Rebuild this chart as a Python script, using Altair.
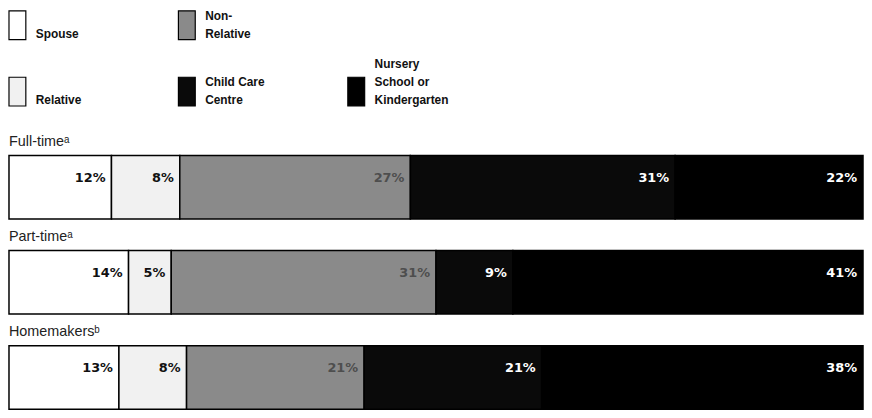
import altair as alt
import pandas as pd

# ---- data ----
groups = ["Full-time", "Part-time", "Homemakers"]
group_labels = ["Full-timeᵃ", "Part-timeᵃ", "Homemakersᵇ"]
categories = ["Spouse", "Relative", "Non-Relative", "Child Care Centre",
              "Nursery School or Kindergarten"]
legend_labels = ["Spouse", "Relative", "Non-\nRelative", "Child Care\nCentre",
                 "Nursery\nSchool or\nKindergarten"]
full_time = [12, 8, 27, 31, 22]
part_time = [14, 5, 31, 9, 41]
homemakers = [13, 8, 21, 21, 38]

# ---- styles ----
fills = ["#ffffff", "#f1f1f1", "#8a8a8a", "#0a0a0a", "#000000"]
label_colors = ["#111111", "#111111", "#4e4e4e", "#ffffff", "#ffffff"]

rows = []
for g, vals in zip(groups, [full_time, part_time, homemakers]):
    for i, (c, v) in enumerate(zip(categories, vals)):
        rows.append({"group": g, "category": c, "order": i, "value": v,
                     "label": f"{v}%"})
df = pd.DataFrame(rows)
gdf = pd.DataFrame({"group": groups, "glabel": group_labels})

leg_rows = []
for i, (c, t) in enumerate(zip(categories, legend_labels)):
    col = i // 2
    row = i % 2 if col < 2 else 1
    leg_rows.append({"category": c, "text": t, "col": col, "row": row,
                     "nlines": t.count("\n") + 1})
ldf = pd.DataFrame(leg_rows)

W = 862
LH = 18
fill_scale = alt.Scale(domain=categories, range=fills)

# ---- legend panel ----
lx = alt.Scale(domain=[0, 1, 2], range=[0, 359], paddingInner=0.9006, paddingOuter=0, align=0)
ly = alt.Scale(domain=[0, 1], range=[0, 96], paddingInner=0.567, paddingOuter=0, align=0)
lbase = alt.Chart(ldf)
swatches = lbase.mark_rect(stroke="#000000", strokeWidth=1.2).encode(
    x=alt.X("col:O", scale=lx, axis=None),
    y=alt.Y("row:O", scale=ly, axis=None),
    fill=alt.Fill("category:N", scale=fill_scale, legend=None),
)
text_layers = []
for n in (1, 2, 3):
    text_layers.append(
        lbase.transform_filter(alt.datum.nlines == n).mark_text(
            align="left", baseline="bottom", dx=27, dy=1 - (n - 1) * LH,
            font="Liberation Sans", fontWeight="bold", fontSize=12,
            lineBreak="\n", lineHeight=LH, color="#111111").encode(
            x=alt.X("col:O", scale=lx, axis=None, bandPosition=0),
            y=alt.Y("row:O", scale=ly, axis=None, bandPosition=1),
            text="text:N",
        )
    )
legend = alt.layer(swatches, *text_layers).properties(width=W, height=116)

# ---- bars panel ----
ysc = alt.Scale(domain=groups, paddingInner=0.333, paddingOuter=0.156, align=1)
base = alt.Chart(df).transform_stack(
    stack="value", groupby=["group"], as_=["x0", "x1"], offset="normalize",
    sort=[alt.SortField("order", order="ascending")],
)
xsc = alt.Scale(domain=[0, 1], nice=False, zero=False)
bars = base.mark_rect(stroke="#000000", strokeWidth=1.5).encode(
    x=alt.X("x0:Q", scale=xsc, axis=None),
    x2="x1:Q",
    y=alt.Y("group:N", scale=ysc, axis=None),
    fill=alt.Fill("category:N", scale=fill_scale, legend=None),
)
labels = base.mark_text(align="right", baseline="middle", dx=-6, dy=-9,
                        font="DejaVu Sans", fontWeight="bold", fontSize=13).encode(
    x=alt.X("x1:Q", scale=xsc, axis=None),
    y=alt.Y("group:N", scale=ysc, axis=None),
    text="label:N",
    color=alt.Color("category:N", scale=alt.Scale(domain=categories, range=label_colors), legend=None),
)
glabels = alt.Chart(gdf).mark_text(align="left", baseline="alphabetic", dy=-42,
                                   font="Liberation Sans", fontSize=14.5,
                                   color="#222222").encode(
    x=alt.value(0),
    y=alt.Y("group:N", scale=ysc, axis=None),
    text="glabel:N",
)
barpanel = alt.layer(bars, labels, glabels).properties(width=W, height=286)

chart = alt.vconcat(legend, barpanel, spacing=0).properties(
    padding=0, background="#ffffff"
).configure_view(strokeWidth=0)

chart.save("out.html", embed_options={"renderer": "svg", "actions": False})
